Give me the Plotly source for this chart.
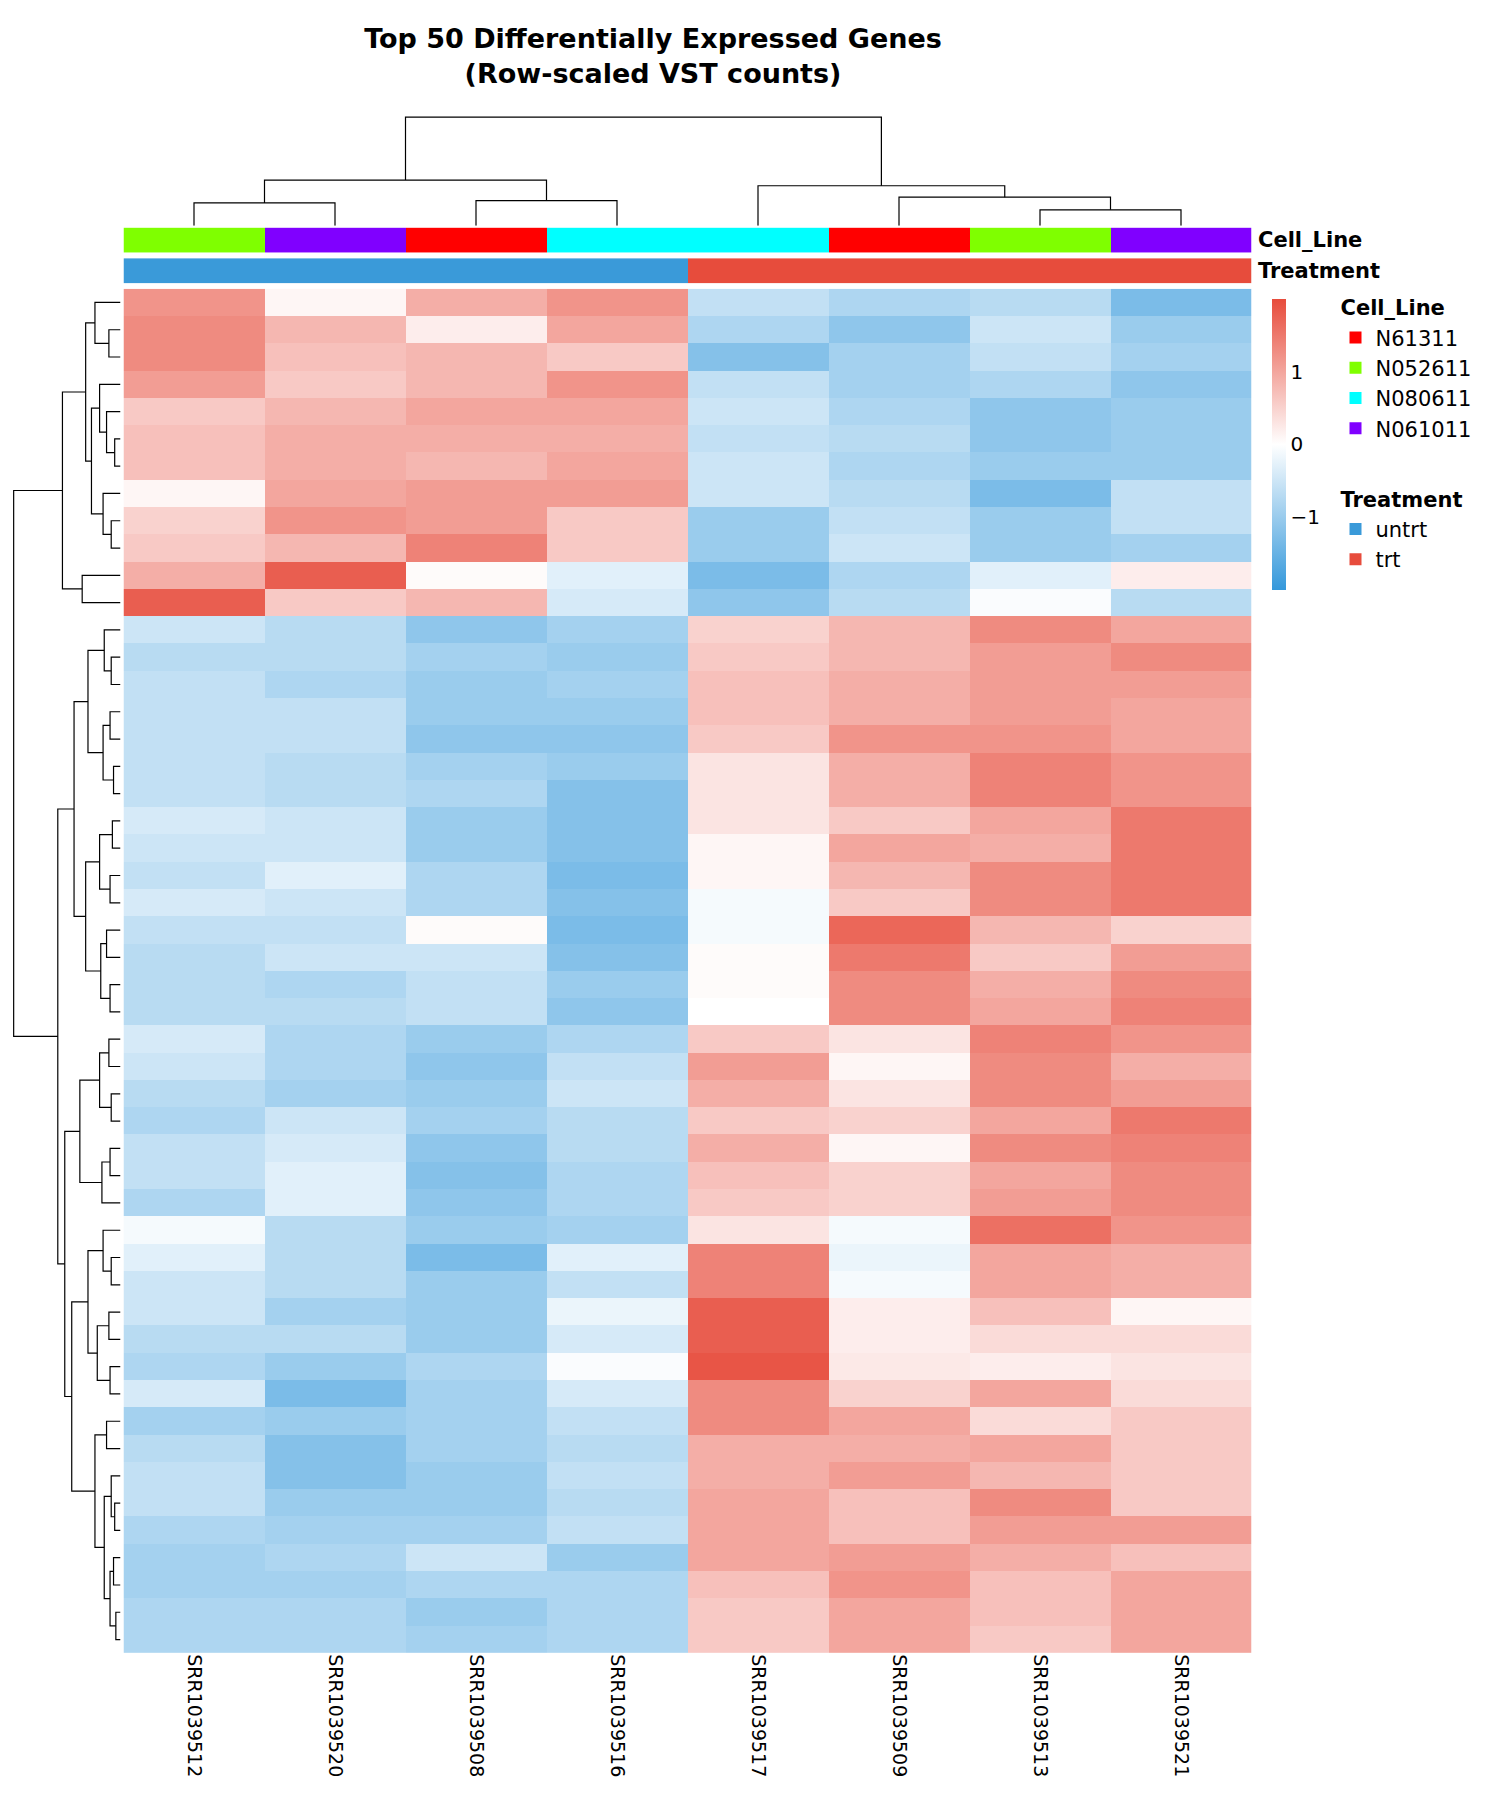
import plotly.graph_objects as go

samples = ["SRR1039512","SRR1039520","SRR1039508","SRR1039516","SRR1039517","SRR1039509","SRR1039513","SRR1039521"]
cell_line = ["N052611","N061011","N61311","N080611","N080611","N61311","N052611","N061011"]
treatment = ["untrt","untrt","untrt","untrt","trt","trt","trt","trt"]
cell_colors = {"N61311":"#FF0000","N052611":"#7FFF00","N080611":"#00FFFF","N061011":"#8000FF"}
treat_colors = {"untrt":"#3A9AD9","trt":"#E74C3C"}

z = [
[1.2,0.1,0.9,1.2,-0.6,-0.8,-0.7,-1.3],
[1.3,0.8,0.2,1.0,-0.8,-1.1,-0.5,-1.0],
[1.3,0.7,0.8,0.6,-1.2,-0.9,-0.6,-0.9],
[1.1,0.6,0.8,1.2,-0.6,-0.9,-0.8,-1.1],
[0.6,0.8,1.0,1.0,-0.5,-0.8,-1.1,-1.0],
[0.7,0.9,0.9,0.9,-0.6,-0.7,-1.1,-1.0],
[0.7,0.9,0.8,1.0,-0.5,-0.8,-1.0,-1.0],
[0.1,1.0,1.1,1.1,-0.5,-0.7,-1.3,-0.6],
[0.5,1.2,1.1,0.6,-1.0,-0.6,-1.0,-0.6],
[0.6,0.8,1.4,0.6,-1.0,-0.5,-1.0,-0.9],
[0.9,1.8,0.05,-0.3,-1.3,-0.8,-0.3,0.2],
[1.8,0.6,0.8,-0.4,-1.1,-0.7,-0.05,-0.7],
[-0.5,-0.7,-1.1,-0.9,0.5,0.8,1.3,1.0],
[-0.7,-0.7,-0.9,-1.0,0.6,0.8,1.1,1.3],
[-0.6,-0.8,-1.0,-0.9,0.7,0.9,1.1,1.1],
[-0.6,-0.6,-1.0,-1.0,0.7,0.9,1.1,1.0],
[-0.6,-0.6,-1.1,-1.1,0.6,1.2,1.2,1.0],
[-0.6,-0.7,-0.9,-1.0,0.3,0.9,1.4,1.2],
[-0.6,-0.7,-0.8,-1.2,0.3,0.9,1.4,1.2],
[-0.4,-0.5,-1.0,-1.2,0.3,0.6,1.0,1.5],
[-0.5,-0.5,-1.0,-1.2,0.1,1.0,0.9,1.5],
[-0.6,-0.3,-0.8,-1.3,0.1,0.8,1.3,1.5],
[-0.4,-0.5,-0.8,-1.2,-0.1,0.6,1.3,1.5],
[-0.6,-0.6,0.05,-1.3,-0.1,1.7,0.8,0.5],
[-0.7,-0.5,-0.5,-1.2,0.05,1.5,0.6,1.1],
[-0.7,-0.8,-0.6,-1.0,0.05,1.3,0.9,1.3],
[-0.7,-0.7,-0.6,-1.1,0.0,1.3,1.0,1.4],
[-0.4,-0.8,-1.0,-0.8,0.6,0.3,1.4,1.2],
[-0.5,-0.8,-1.1,-0.6,1.1,0.1,1.3,0.9],
[-0.7,-0.9,-1.0,-0.5,0.9,0.3,1.3,1.1],
[-0.8,-0.5,-0.9,-0.7,0.6,0.5,1.0,1.5],
[-0.6,-0.4,-1.1,-0.7,0.9,0.1,1.3,1.4],
[-0.6,-0.3,-1.2,-0.8,0.7,0.5,1.0,1.3],
[-0.8,-0.3,-1.1,-0.8,0.6,0.5,1.1,1.3],
[-0.1,-0.7,-1.0,-0.9,0.3,-0.1,1.6,1.2],
[-0.3,-0.7,-1.3,-0.3,1.4,-0.2,1.0,0.9],
[-0.5,-0.7,-1.0,-0.6,1.4,-0.1,1.0,0.9],
[-0.5,-0.9,-1.0,-0.2,1.8,0.2,0.7,0.1],
[-0.7,-0.7,-1.0,-0.4,1.8,0.2,0.4,0.4],
[-0.8,-1.0,-0.8,-0.05,1.9,0.25,0.2,0.3],
[-0.4,-1.3,-0.9,-0.4,1.3,0.5,1.0,0.4],
[-0.9,-1.0,-0.9,-0.6,1.3,1.0,0.4,0.6],
[-0.7,-1.2,-0.9,-0.7,0.9,0.9,1.0,0.6],
[-0.6,-1.2,-1.0,-0.6,0.9,1.1,0.8,0.6],
[-0.6,-1.0,-1.0,-0.7,1.0,0.7,1.3,0.6],
[-0.8,-0.9,-0.9,-0.6,1.0,0.7,1.1,1.1],
[-0.9,-0.8,-0.5,-1.0,1.0,1.1,0.9,0.7],
[-0.9,-0.9,-0.8,-0.8,0.7,1.2,0.7,1.0],
[-0.8,-0.8,-1.0,-0.8,0.6,1.0,0.7,1.0],
[-0.8,-0.8,-0.9,-0.8,0.6,1.0,0.6,1.0],
]

col_tree = (((0,1,20),(2,3,22),40),(4,(5,(6,7,14),25),35),95)
A = ((0,(1,2,10),22),((3,(4,(5,6,5),12),18),(7,(8,9,8),15),25),30)
B = (10,11,33)
C = (((12,(13,14,8),14),((15,16,9),(17,18,6),15),28),
     (((19,20,7),(21,22,9),18),((23,24,12),(25,26,9),17),30),40)
D1 = (((27,28,10),(29,30,8),18),((31,32,9),33,16),35)
n34 = (34,(35,36,8),15)
n37 = ((37,38,10),(39,40,9),20)
n41 = ((41,42,12),((43,(44,45,5),8),((46,47,6),(48,49,4),9),14),22)
D2 = ((n34,n37,28),n41,42)
D = (D1,D2,48)
row_tree = ((A,B,50),(C,D,54),92)

def dendro(node, xs, hs):
    if isinstance(node,int):
        return float(node), 0.0
    l,r,h = node
    pl,hl = dendro(l,xs,hs); pr,hr = dendro(r,xs,hs)
    xs += [pl,pl,pr,pr,None]; hs += [hl,h,h,hr,None]
    return (pl+pr)/2, h

def discrete_scale(colors):
    n = len(colors); s = []
    for i,c in enumerate(colors):
        s += [[i/n, c], [(i+1)/n, c]]
    return s

fig = go.Figure()
x_idx = list(range(len(samples)))
y_idx = list(range(len(z)))
fig.add_trace(go.Heatmap(z=z, x=x_idx, y=y_idx, zmin=-2, zmax=2,
    colorscale=[[0,"#3498DB"],[0.5,"#FFFFFF"],[1,"#E74C3C"]],
    colorbar=dict(x=0.836, xanchor="left", y=0.844, yanchor="top", len=0.173, thickness=14,
                  tickvals=[-1,0,1], outlinewidth=0, ticks="", tickfont=dict(size=20)),
    xaxis="x", yaxis="y", hoverinfo="skip"))

cl_codes = list(cell_colors.keys())
fig.add_trace(go.Heatmap(z=[[cl_codes.index(c)+0.5 for c in cell_line]], x=x_idx, xaxis="x", yaxis="y2",
    zmin=0, zmax=len(cl_codes), showscale=False, hoverinfo="skip",
    colorscale=discrete_scale([cell_colors[c] for c in cl_codes])))
tr_codes = list(treat_colors.keys())
fig.add_trace(go.Heatmap(z=[[tr_codes.index(t)+0.5 for t in treatment]], x=x_idx, xaxis="x", yaxis="y3",
    zmin=0, zmax=len(tr_codes), showscale=False, hoverinfo="skip",
    colorscale=discrete_scale([treat_colors[t] for t in tr_codes])))

xs,hs=[],[]
dendro(col_tree,xs,hs)
fig.add_trace(go.Scatter(x=xs,y=hs,mode="lines",line=dict(color="black",width=1.2),xaxis="x",yaxis="y4",showlegend=False,hoverinfo="skip"))
ys,hs2=[],[]
dendro(row_tree,ys,hs2)
fig.add_trace(go.Scatter(x=hs2,y=ys,mode="lines",line=dict(color="black",width=1.2),xaxis="x2",yaxis="y",showlegend=False,hoverinfo="skip"))

for name,col in cell_colors.items():
    fig.add_trace(go.Scatter(x=[None],y=[None],mode="markers",name=name,legendgroup="cl",
        legendgrouptitle=dict(text="<b>Cell_Line</b>"),marker=dict(symbol="square",size=30,color=col)))
for name,col in treat_colors.items():
    fig.add_trace(go.Scatter(x=[None],y=[None],mode="markers",name=name,legendgroup="tr",
        legendgrouptitle=dict(text="<b>Treatment</b>"),marker=dict(symbol="square",size=30,color=col)))

hx=[0.077,0.829]
fig.update_layout(
    width=1500,height=1800,plot_bgcolor="white",paper_bgcolor="white",
    font=dict(family="DejaVu Sans",size=20,color="black"),
    margin=dict(l=0,r=0,t=0,b=0),
    title=dict(text="<b>Top 50 Differentially Expressed Genes</b><br><b>(Row-scaled VST counts)</b>",x=0.43,xanchor="center",y=0.978,yanchor="top",font=dict(size=27)),
    xaxis=dict(domain=hx,range=[-0.5,7.5],tickvals=x_idx,ticktext=samples,tickangle=90,showgrid=False,zeroline=False,ticks="",side="bottom",tickfont=dict(size=19)),
    yaxis=dict(domain=[0.086,0.844],range=[49.5,-0.5],showticklabels=False,showgrid=False,zeroline=False),
    yaxis2=dict(domain=[0.864,0.878],range=[-0.5,0.5],showticklabels=False,showgrid=False,zeroline=False),
    yaxis3=dict(domain=[0.847,0.861],range=[-0.5,0.5],showticklabels=False,showgrid=False,zeroline=False),
    yaxis4=dict(domain=[0.879,0.94],range=[0,96],showticklabels=False,showgrid=False,zeroline=False),
    xaxis2=dict(domain=[0.003,0.075],range=[93,0],showticklabels=False,showgrid=False,zeroline=False),
    legend=dict(x=0.885,y=0.845,yanchor="top",tracegroupgap=40,font=dict(size=21),grouptitlefont=dict(size=21),itemsizing="constant"),
    annotations=[
        dict(text="<b>Cell_Line</b>",x=0.832,y=0.871,xref="paper",yref="paper",xanchor="left",yanchor="middle",showarrow=False,font=dict(size=21)),
        dict(text="<b>Treatment</b>",x=0.832,y=0.854,xref="paper",yref="paper",xanchor="left",yanchor="middle",showarrow=False,font=dict(size=21)),
    ])
fig.write_html("out.html")
